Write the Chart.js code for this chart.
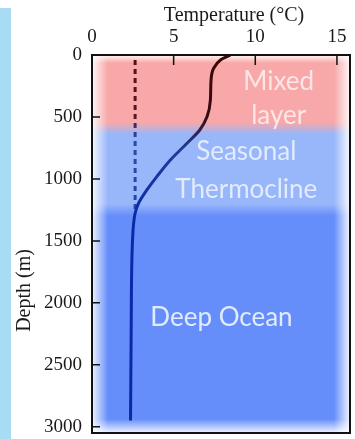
<!DOCTYPE html>
<html>
<head>
<meta charset="utf-8">
<script src="https://cdn.jsdelivr.net/npm/chart.js@4/dist/chart.umd.min.js"></script>
<style>
    html, body { margin: 0; padding: 0; background: #fff; }
    #wrap { position: relative; width: 355px; height: 439px; }
    #strip { position: absolute; left: 0; top: 8px; width: 11px; height: 431px; background: #a8dcf4; }
    canvas { position: absolute; left: 0; top: 0; }
</style>
</head>
<body>
<div id="wrap">
    <div id="strip"></div>
    <canvas id="profile" width="355" height="439"></canvas>
</div>
<script>
// Temperature profile (depth in m, temperature in C)
const profileDepths = [0, 40, 107, 202, 363, 497, 605, 712, 847, 981, 1089, 1196, 1277, 1500, 2200, 2950];
const profileTemps = [8.48, 7.87, 7.45, 7.29, 7.25, 7.05, 6.6, 5.82, 4.8, 3.97, 3.36, 2.85, 2.64, 2.48, 2.4, 2.36];

// dashed reference line (deep water temperature)
const dashDepths = [40, 1250];
const dashTemps = [2.64, 2.64];

// ocean layers
const layerNames = [["Mixed", "layer"], ["Seasonal", "Thermocline"], ["Deep Ocean"]];
const layerTops = [0, 590, 1250];
const layerBottoms = [590, 1250, 3050];

// ticks
const tempTicks = [0, 5, 10, 15];
const depthTicks = [0, 500, 1000, 1500, 2000, 2500, 3000];

const serif = "'Liberation Serif', 'DejaVu Serif', serif";
const layerColors = ["rgb(248,168,168)", "rgb(152,182,250)", "rgb(102,142,250)"];
const layerText = ["rgba(255,236,236,0.9)", "rgba(232,240,255,0.92)", "rgba(232,240,255,0.95)"];
// where each layer label sits: temperature, depth of first line, line gap (px)
const labelSpots = [[11.43, 218, 34], [9.45, 783, 38], [7.93, 2122, 0]];

function strokeGrad(ctx, area, y, stops) {
    const g = ctx.createLinearGradient(0, area.top, 0, area.bottom);
    stops.forEach(s => g.addColorStop(Math.min(1, Math.max(0, (y.getPixelForValue(s[0]) - area.top) / (area.bottom - area.top))), s[1]));
    return g;
}

function noEdgePadding(s) {
    s.paddingTop = 0;
    s.paddingBottom = 0;
    s.paddingLeft = 0;
    s.paddingRight = 0;
}

const backgroundPlugin = {
    id: "layers",
    beforeDatasetsDraw(chart) {
        const { ctx, chartArea: a, scales: { x, y } } = chart;
        ctx.save();
        layerTops.forEach((top, i) => {
            const y0 = y.getPixelForValue(top);
            const y1 = y.getPixelForValue(layerBottoms[i]);
            ctx.fillStyle = layerColors[i];
            ctx.fillRect(a.left, y0, a.right - a.left, y1 - y0);
        });
        // soft transitions between layers
        for (let i = 1; i < layerTops.length; i++) {
            const yb = y.getPixelForValue(layerTops[i]);
            const g = ctx.createLinearGradient(0, yb - 6, 0, yb + 6);
            g.addColorStop(0, layerColors[i - 1]);
            g.addColorStop(1, layerColors[i]);
            ctx.fillStyle = g;
            ctx.fillRect(a.left, yb - 6, a.right - a.left, 12);
        }
        // white fade along the edges
        const w = 16;
        const fades = [
            [a.left, 0, a.left + w, 0, a.left, a.top, w, a.bottom - a.top],
            [a.right, 0, a.right - w, 0, a.right - w, a.top, w, a.bottom - a.top],
            [0, a.bottom, 0, a.bottom - 14, a.left, a.bottom - 14, a.right - a.left, 14],
            [0, a.top, 0, a.top + 8, a.left, a.top, a.right - a.left, 8]
        ];
        fades.forEach(f => {
            const g = ctx.createLinearGradient(f[0], f[1], f[2], f[3]);
            g.addColorStop(0, "rgba(255,255,255,0.9)");
            g.addColorStop(1, "rgba(255,255,255,0)");
            ctx.fillStyle = g;
            ctx.fillRect(f[4], f[5], f[6], f[7]);
        });
        // layer names
        ctx.font = "26px Lato, 'Open Sans', sans-serif";
        ctx.textAlign = "center";
        ctx.textBaseline = "middle";
        layerNames.forEach((lines, i) => {
            ctx.fillStyle = layerText[i];
            const cx = x.getPixelForValue(labelSpots[i][0]);
            const cy = y.getPixelForValue(labelSpots[i][1]);
            lines.forEach((t, k) => ctx.fillText(t, cx, cy + k * labelSpots[i][2]));
        });
        ctx.restore();
    }
};

const framePlugin = {
    id: "frame",
    afterDatasetsDraw(chart) {
        const { ctx, chartArea: a, scales: { x, y } } = chart;
        ctx.save();
        ctx.strokeStyle = "#111";
        ctx.lineWidth = 1.5;
        ctx.beginPath();
        x.ticks.forEach(t => {
            const px = x.getPixelForValue(t.value);
            ctx.moveTo(px, a.top);
            ctx.lineTo(px, a.top + 10);
        });
        y.ticks.forEach(t => {
            const py = y.getPixelForValue(t.value);
            ctx.moveTo(a.left, py);
            ctx.lineTo(a.left + 8, py);
        });
        ctx.stroke();
        ctx.lineWidth = 2;
        ctx.strokeRect(a.left, a.top, a.right - a.left, a.bottom - a.top);
        // axis titles
        ctx.fillStyle = "#1a1a1a";
        ctx.font = "20px " + serif;
        ctx.textAlign = "center";
        ctx.textBaseline = "middle";
        ctx.fillText("Temperature (\u00B0C)", x.getPixelForValue(8.7), 16);
        ctx.translate(25, y.getPixelForValue(1900));
        ctx.rotate(-Math.PI / 2);
        ctx.fillText("Depth (m)", 0, 0);
        ctx.restore();
    }
};

const profileData = profileDepths.map((d, i) => ({ x: profileTemps[i], y: d }));
const dashData = dashDepths.map((d, i) => ({ x: dashTemps[i], y: d }));

new Chart(document.getElementById("profile"), {
    type: "line",
    data: {
        datasets: [
            {
                data: profileData,
                borderWidth: 3,
                pointRadius: 0,
                cubicInterpolationMode: "monotone",
                borderColor: c => {
                    const a = c.chart.chartArea;
                    if (!a) return "#222";
                    return strokeGrad(c.chart.ctx, a, c.chart.scales.y,
                        [[0, "#3a0808"], [500, "#3a0a12"], [760, "#203c98"], [1300, "#0a2aa8"], [3050, "#0828a8"]]);
                }
            },
            {
                data: dashData,
                borderWidth: 3,
                pointRadius: 0,
                borderDash: [5, 4],
                borderColor: c => {
                    const a = c.chart.chartArea;
                    if (!a) return "#222";
                    return strokeGrad(c.chart.ctx, a, c.chart.scales.y,
                        [[0, "#5a0e12"], [480, "#5a1420"], [680, "#2a4aa8"], [3050, "#1a3aa8"]]);
                }
            }
        ]
    },
    options: {
        responsive: false,
        animation: false,
        indexAxis: "y",
        layout: { padding: { left: 44, top: 26, right: 5, bottom: 6 } },
        plugins: { legend: { display: false }, tooltip: { enabled: false } },
        scales: {
            x: {
                type: "linear",
                position: "top",
                min: 0,
                max: 15.8,
                grid: { display: false, drawTicks: false },
                border: { display: false },
                afterFit: s => { s.height = 29; noEdgePadding(s); },
                afterBuildTicks: s => { s.ticks = tempTicks.map(v => ({ value: v })); },
                ticks: { color: "#1a1a1a", font: { family: serif, size: 19 }, padding: 7 }
            },
            y: {
                type: "linear",
                reverse: true,
                min: 0,
                max: 3050,
                grid: { display: false, drawTicks: false },
                border: { display: false },
                afterFit: s => { s.width = 48; noEdgePadding(s); },
                afterBuildTicks: s => { s.ticks = depthTicks.map(v => ({ value: v })); },
                ticks: { color: "#1a1a1a", font: { family: serif, size: 19 }, padding: 10, callback: v => String(v) }
            }
        }
    },
    plugins: [backgroundPlugin, framePlugin]
});
</script>
</body>
</html>
